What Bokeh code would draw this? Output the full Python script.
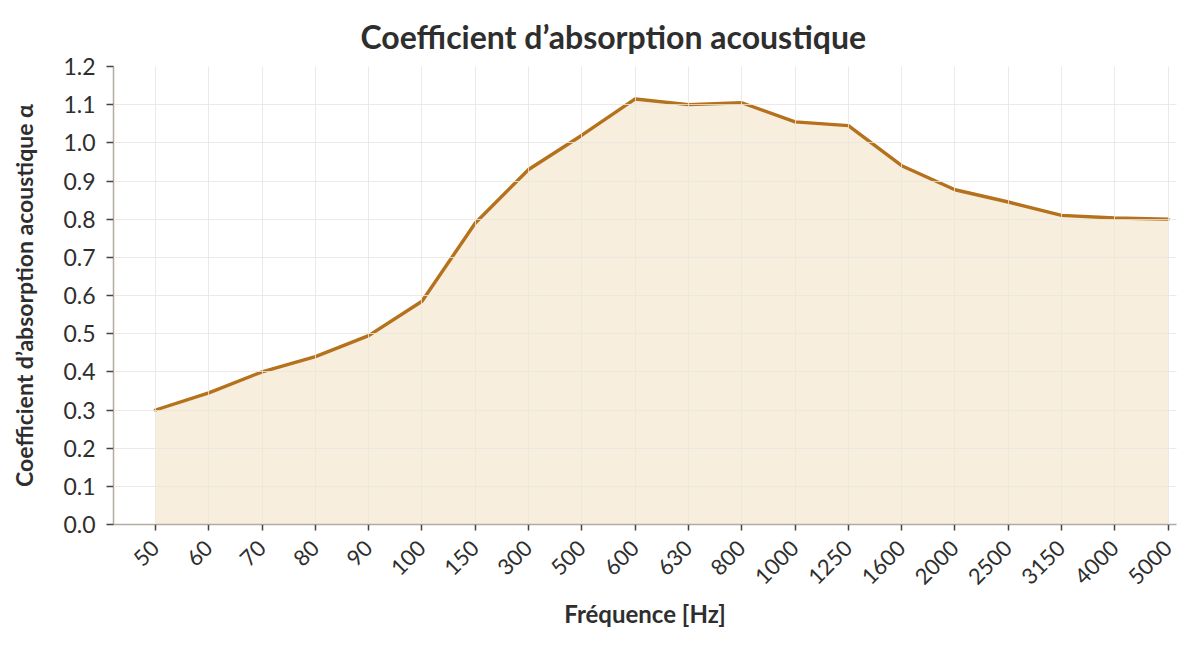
import math
from bokeh.plotting import figure
from bokeh.models import FixedTicker, PrintfTickFormatter, Range1d
from bokeh.embed import file_html
from bokeh.resources import INLINE

# ---- data ----
freq_labels = ["50", "60", "70", "80", "90", "100", "150", "300", "500", "600",
               "630", "800", "1000", "1250", "1600", "2000", "2500", "3150", "4000", "5000"]
alpha_values = [0.30, 0.345, 0.40, 0.44, 0.495, 0.585, 0.79, 0.93, 1.02, 1.115,
                1.10, 1.105, 1.055, 1.045, 0.94, 0.877, 0.845, 0.81, 0.803, 0.80]
y_ticks = [0.0, 0.1, 0.2, 0.3, 0.4, 0.5, 0.6, 0.7, 0.8, 0.9, 1.0, 1.1, 1.2]

title_text = "Coefficient d\u2019absorption acoustique"
x_title = "Fr\u00e9quence [Hz]"
y_title = "Coefficient d\u2019absorption acoustique \u03b1"

FONT = "Lato"
TEXT = "#2e2e2e"
LINE = "#b5711b"
FILL = "#f6ecda"
GRID = "#e9e5df"
AXIS = "#b3aca3"

xs = list(range(len(freq_labels)))

p = figure(width=1184, height=631, output_backend="svg", toolbar_location=None,
           x_range=Range1d(-0.788, 19.156), y_range=Range1d(0, 1.2),
           min_border_left=113, min_border_right=8, min_border_top=66, min_border_bottom=105)

p.background_fill_color = "white"
p.border_fill_color = "white"
p.outline_line_color = None

p.varea(x=xs, y1=[0] * len(xs), y2=alpha_values, fill_color=FILL, fill_alpha=0.9)
p.line(x=xs, y=alpha_values, line_color=LINE, line_width=3.4, line_join="round", line_cap="round")

# title
p.title.text = title_text
p.title.text_font = FONT
p.title.text_font_style = "bold"
p.title.text_font_size = "32px"
p.title.text_color = TEXT
p.title.align = "left"
p.title.offset = 247
p.title.standoff = 22

# x axis
xa = p.xaxis[0]
xa.ticker = FixedTicker(ticks=xs)
xa.major_label_overrides = {i: lab for i, lab in enumerate(freq_labels)}
xa.major_label_orientation = math.pi / 4
xa.major_label_text_font = FONT
xa.major_label_text_font_size = "22px"
xa.major_label_text_color = TEXT
xa.major_label_standoff = 14
xa.axis_label = x_title
xa.axis_label_text_font = FONT
xa.axis_label_text_font_style = "bold"
xa.axis_label_text_font_size = "24px"
xa.axis_label_text_color = TEXT
xa.axis_label_standoff = 5
xa.axis_line_color = AXIS
xa.axis_line_width = 1.5
xa.major_tick_line_color = "#444444"
xa.major_tick_line_width = 1.5
xa.major_tick_in = 0
xa.major_tick_out = 6
xa.minor_tick_line_color = None

# y axis
ya = p.yaxis[0]
ya.ticker = FixedTicker(ticks=y_ticks)
ya.formatter = PrintfTickFormatter(format="%.1f")
ya.major_label_text_font = FONT
ya.major_label_text_font_size = "23px"
ya.major_label_text_color = TEXT
ya.major_label_standoff = 11
ya.axis_label = y_title
ya.axis_label_text_font = FONT
ya.axis_label_text_font_style = "bold"
ya.axis_label_text_font_size = "23px"
ya.axis_label_text_color = TEXT
ya.axis_label_standoff = 22
ya.axis_line_color = AXIS
ya.axis_line_width = 1.5
ya.major_tick_line_color = "#444444"
ya.major_tick_line_width = 1.5
ya.major_tick_in = 0
ya.major_tick_out = 7
ya.minor_tick_line_color = None

p.xgrid.grid_line_color = GRID
p.ygrid.grid_line_color = GRID
p.xgrid.grid_line_width = 1
p.ygrid.grid_line_width = 1
p.xgrid.level = "overlay"
p.ygrid.level = "overlay"
p.xgrid.grid_line_alpha = 0.8
p.ygrid.grid_line_alpha = 0.8

open("out.html", "w").write(file_html(p, INLINE))
